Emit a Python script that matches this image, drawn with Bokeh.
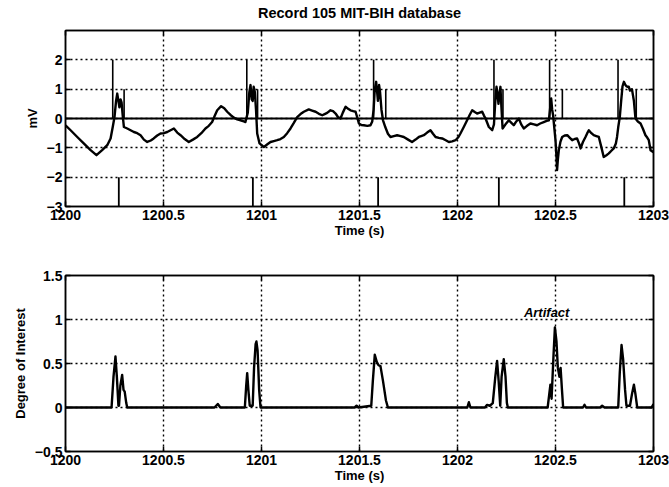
from bokeh.plotting import figure
from bokeh.layouts import column
from bokeh.models import Range1d, FixedTicker, LinearAxis, Span, Label
from bokeh.embed import file_html
from bokeh.resources import INLINE

# ---------------- data ----------------
ecg_t = [1200.000, 1200.026, 1200.060, 1200.093, 1200.128, 1200.158, 1200.187, 1200.213, 1200.230, 1200.241,
         1200.250, 1200.258, 1200.264, 1200.270, 1200.275, 1200.281, 1200.286, 1200.292, 1200.298, 1200.315,
         1200.332, 1200.349, 1200.366, 1200.383, 1200.400, 1200.417, 1200.435, 1200.450, 1200.468, 1200.485,
         1200.502, 1200.519, 1200.536, 1200.553, 1200.570, 1200.587, 1200.608, 1200.629, 1200.650, 1200.672,
         1200.693, 1200.714, 1200.731, 1200.748, 1200.762, 1200.774, 1200.794, 1200.810, 1200.825, 1200.842,
         1200.859, 1200.876, 1200.893, 1200.910, 1200.918, 1200.930, 1200.938, 1200.944, 1200.950, 1200.955,
         1200.960, 1200.966, 1200.972, 1200.978, 1200.990, 1201.012, 1201.030, 1201.046, 1201.063, 1201.080,
         1201.097, 1201.114, 1201.131, 1201.148, 1201.165, 1201.182, 1201.199, 1201.216, 1201.241, 1201.258,
         1201.276, 1201.293, 1201.310, 1201.322, 1201.335, 1201.352, 1201.365, 1201.378, 1201.390, 1201.403,
         1201.415, 1201.429, 1201.442, 1201.454, 1201.468, 1201.480, 1201.490, 1201.497, 1201.510, 1201.522,
         1201.540, 1201.556, 1201.565, 1201.572, 1201.578, 1201.585, 1201.590, 1201.594, 1201.600, 1201.605,
         1201.612, 1201.620, 1201.632, 1201.645, 1201.658, 1201.675, 1201.692, 1201.710, 1201.726, 1201.748,
         1201.768, 1201.786, 1201.803, 1201.815, 1201.828, 1201.845, 1201.862, 1201.875, 1201.888, 1201.905,
         1201.922, 1201.940, 1201.956, 1201.973, 1201.990, 1202.005, 1202.015, 1202.032, 1202.049, 1202.062,
         1202.075, 1202.088, 1202.100, 1202.113, 1202.126, 1202.135, 1202.143, 1202.160, 1202.177, 1202.186,
         1202.192, 1202.199, 1202.205, 1202.209, 1202.214, 1202.219, 1202.224, 1202.230, 1202.245, 1202.262,
         1202.275, 1202.287, 1202.300, 1202.313, 1202.325, 1202.338, 1202.355, 1202.372, 1202.390, 1202.406,
         1202.422, 1202.440, 1202.455, 1202.466, 1202.472, 1202.478, 1202.483, 1202.488, 1202.495, 1202.500,
         1202.505, 1202.508, 1202.512, 1202.517, 1202.525, 1202.534, 1202.547, 1202.560, 1202.572, 1202.585,
         1202.598, 1202.610, 1202.620, 1202.628, 1202.640, 1202.653, 1202.662, 1202.670, 1202.683, 1202.695,
         1202.708, 1202.721, 1202.733, 1202.746, 1202.760, 1202.772, 1202.785, 1202.797, 1202.808, 1202.814,
         1202.820, 1202.828, 1202.835, 1202.842, 1202.849, 1202.856, 1202.862, 1202.868, 1202.874, 1202.880,
         1202.890, 1202.900, 1202.908, 1202.920, 1202.934, 1202.946, 1202.959, 1202.968, 1202.976, 1202.985,
         1203.000]
ecg_mv = [-0.23, -0.40, -0.63, -0.85, -1.08, -1.25, -1.08, -0.91, -0.68, -0.29,
          0.05, 0.60, 0.85, 0.60, 0.38, 0.65, 0.55, 0.10, -0.29, -0.34,
          -0.40, -0.46, -0.50, -0.57, -0.72, -0.80, -0.75, -0.68, -0.58, -0.51,
          -0.50, -0.46, -0.40, -0.34, -0.48, -0.57, -0.70, -0.80, -0.72, -0.63,
          -0.50, -0.34, -0.25, -0.12, 0.10, 0.28, 0.42, 0.35, 0.23, 0.12,
          0.03, -0.03, -0.06, -0.10, -0.12, 0.20, 0.90, 1.14, 0.65, 0.60,
          1.08, 0.90, 0.30, -0.51, -0.85, -0.97, -0.88, -0.80, -0.77, -0.74,
          -0.70, -0.63, -0.50, -0.34, -0.15, 0.05, 0.15, 0.23, 0.31, 0.27,
          0.23, 0.16, 0.11, 0.15, 0.19, 0.28, 0.25, 0.17, 0.05, 0.00,
          0.20, 0.40, 0.33, 0.28, 0.25, 0.23, 0.00, -0.17, -0.22, -0.23,
          -0.25, -0.23, -0.10, 0.30, 1.00, 1.25, 0.90, 0.60, 1.14, 0.90,
          0.30, -0.06, -0.30, -0.52, -0.63, -0.60, -0.57, -0.60, -0.63, -0.72,
          -0.80, -0.72, -0.63, -0.60, -0.57, -0.48, -0.40, -0.52, -0.63, -0.66,
          -0.68, -0.74, -0.80, -0.78, -0.74, -0.63, -0.51, -0.29, -0.06, 0.12,
          0.28, 0.22, 0.17, 0.20, 0.23, 0.10, 0.00, -0.29, -0.40, -0.20,
          0.50, 1.08, 0.80, 0.50, 0.85, 1.08, 0.40, -0.34, -0.20, -0.06,
          -0.15, -0.23, -0.10, 0.00, -0.20, -0.34, -0.25, -0.17, -0.20, -0.23,
          -0.17, -0.12, -0.08, -0.06, 0.30, 0.68, 0.30, 0.10, -0.40, -0.74,
          -1.30, -1.76, -1.40, -1.08, -0.80, -0.63, -0.58, -0.57, -0.65, -0.74,
          -0.70, -0.68, -0.85, -1.02, -0.80, -0.63, -0.50, -0.40, -0.50, -0.57,
          -0.60, -0.63, -0.95, -1.31, -1.25, -1.19, -1.10, -1.02, -0.85, -0.63,
          -0.30, 0.05, 0.60, 1.10, 1.25, 1.15, 1.10, 1.08, 1.08, 0.95,
          1.00, 0.60, 0.00, -0.10, -0.17, -0.35, -0.57, -0.65, -0.74, -1.08,
          -1.15]

# beat annotation marks (top: detected, short: second mark, bottom: reference)
tall_marks = [1200.241, 1200.925, 1201.572, 1202.186, 1202.470, 1202.819]
short_marks = [1200.299, 1200.980, 1201.634, 1202.232, 1202.535, 1202.912]
ref_marks = [1200.272, 1200.956, 1201.595, 1202.211, 1202.851]

doi_t = [1200.000, 1200.235, 1200.245, 1200.255, 1200.262, 1200.270, 1200.273, 1200.280, 1200.289, 1200.296,
         1200.302, 1200.310, 1200.315, 1200.760, 1200.777, 1200.790, 1200.915, 1200.922, 1200.927, 1200.933,
         1200.940, 1200.955, 1200.962, 1200.970, 1200.974, 1200.980, 1200.988, 1200.995, 1201.475, 1201.485,
         1201.495, 1201.560, 1201.568, 1201.578, 1201.588, 1201.597, 1201.607, 1201.620, 1201.635, 1201.645,
         1202.050, 1202.058, 1202.066, 1202.140, 1202.151, 1202.165, 1202.180, 1202.193, 1202.202, 1202.210,
         1202.218, 1202.225, 1202.236, 1202.245, 1202.252, 1202.257, 1202.460, 1202.468, 1202.474, 1202.480,
         1202.490, 1202.497, 1202.505, 1202.512, 1202.520, 1202.526, 1202.533, 1202.539, 1202.640, 1202.648,
         1202.656, 1202.728, 1202.738, 1202.750, 1202.820, 1202.828, 1202.837, 1202.845, 1202.855, 1202.862,
         1202.880, 1202.890, 1202.900, 1202.908, 1202.917, 1202.990, 1203.000]
doi = [0.0, 0.0, 0.35, 0.58, 0.35, 0.02, 0.02, 0.25, 0.37, 0.20,
       0.18, 0.05, 0.0, 0.0, 0.04, 0.0, 0.0, 0.25, 0.39, 0.20,
       0.02, 0.02, 0.45, 0.72, 0.75, 0.65, 0.20, 0.0, 0.0, 0.02,
       0.0, 0.02, 0.30, 0.60, 0.52, 0.48, 0.47, 0.30, 0.08, 0.0,
       0.0, 0.06, 0.0, 0.0, 0.03, 0.02, 0.05, 0.35, 0.53, 0.30,
       0.02, 0.35, 0.55, 0.35, 0.05, 0.0, 0.0, 0.15, 0.26, 0.10,
       0.60, 0.91, 0.75, 0.45, 0.35, 0.45, 0.20, 0.0, 0.0, 0.03,
       0.0, 0.0, 0.02, 0.0, 0.0, 0.40, 0.71, 0.55, 0.20, 0.02,
       0.02, 0.15, 0.26, 0.15, 0.0, 0.0, 0.04]

x_ticks = [1200, 1200.5, 1201, 1201.5, 1202, 1202.5, 1203]
x_tick_labels = ["1200", "1200.5", "1201", "1201.5", "1202", "1202.5", "1203"]
top_y_ticks = [-3, -2, -1, 0, 1, 2]
top_y_labels = ["\u22123", "\u22122", "\u22121", "0", "1", "2"]
bot_y_ticks = [-0.5, 0, 0.5, 1, 1.5]
bot_y_labels = ["\u22120.5", "0", "0.5", "1", "1.5"]

title_text = "Record 105 MIT-BIH database"
artifact_t, artifact_y = 1202.455, 0.99

FONT = "Liberation Sans"


def style(p, xt, xl, yt, yl, xlabel, ylabel, top_label=None):
    xb = p.below[0]
    yl_ax = p.left[0]
    xb.ticker = FixedTicker(ticks=xt)
    yl_ax.ticker = FixedTicker(ticks=yt)
    xb.major_label_overrides = {k: v for k, v in zip(xt, xl)}
    yl_ax.major_label_overrides = {k: v for k, v in zip(yt, yl)}
    xb.axis_label = xlabel
    yl_ax.axis_label = ylabel
    for ax in (xb, yl_ax):
        ax.major_tick_in = 5
        ax.major_tick_out = 0
        ax.minor_tick_line_color = None
        ax.axis_line_color = "black"
        ax.axis_line_width = 1.5
        ax.major_tick_line_width = 1.5
        ax.major_label_text_font = FONT
        ax.major_label_text_font_style = "bold"
        ax.major_label_text_font_size = "14px"
        ax.major_label_text_color = "black"
        ax.axis_label_text_font = FONT
        ax.axis_label_text_font_style = "bold"
        ax.axis_label_text_font_size = "13px"
        ax.axis_label_text_color = "black"
    xb.major_label_standoff = 3
    xb.axis_label_standoff = 0
    yl_ax.major_label_standoff = 3
    yl_ax.axis_label_standoff = 4
    # box axes on top/right (ticks only, no tick labels)
    for loc, tick in (("right", yt), ("above", xt)):
        ax = LinearAxis(ticker=FixedTicker(ticks=tick), major_tick_in=5, major_tick_out=0,
                        minor_tick_line_color=None,
                        major_label_overrides={k: "" for k in tick},
                        major_label_standoff=0, axis_line_width=1.5, major_tick_line_width=1.5)
        if loc == "above" and top_label:
            ax.axis_label = top_label
            ax.axis_label_standoff = 10
            ax.axis_label_text_font = FONT
            ax.axis_label_text_font_style = "bold"
            ax.axis_label_text_font_size = "14.5px"
            ax.axis_label_text_color = "black"
        p.add_layout(ax, loc)
    p.xgrid.ticker = FixedTicker(ticks=xt)
    p.ygrid.ticker = FixedTicker(ticks=yt)
    p.grid.grid_line_color = "black"
    p.grid.grid_line_dash = "2 3"
    p.grid.grid_line_width = 1.4
    p.outline_line_color = "black"
    p.outline_line_width = 1.5
    p.background_fill_color = "white"
    p.border_fill_color = "white"


p1 = figure(width=669, height=260, output_backend="svg", toolbar_location=None,
            x_range=Range1d(1200, 1203), y_range=Range1d(-3, 3),
            min_border_left=65, min_border_right=16, min_border_top=30, min_border_bottom=54)
style(p1, x_ticks, x_tick_labels, top_y_ticks, top_y_labels, "Time (s)", "mV", title_text)
p1.add_layout(Span(location=0, dimension="width", line_color="black", line_width=2))
p1.segment(x0=tall_marks, y0=[0] * len(tall_marks), x1=tall_marks, y1=[2] * len(tall_marks),
           line_color="black", line_width=1.6)
p1.segment(x0=short_marks, y0=[0] * len(short_marks), x1=short_marks, y1=[1] * len(short_marks),
           line_color="black", line_width=1.6)
p1.segment(x0=ref_marks, y0=[-3] * len(ref_marks), x1=ref_marks, y1=[-2] * len(ref_marks),
           line_color="black", line_width=1.8)
p1.line(ecg_t, ecg_mv, line_color="black", line_width=2.4, line_join="round")

p2 = figure(width=669, height=227, output_backend="svg", toolbar_location=None,
            x_range=Range1d(1200, 1203), y_range=Range1d(-0.5, 1.5),
            min_border_left=65, min_border_right=16, min_border_top=15, min_border_bottom=36)
style(p2, x_ticks, x_tick_labels, bot_y_ticks, bot_y_labels, "Time (s)", "Degree of Interest")
p2.line(doi_t, doi, line_color="black", line_width=2.4, line_join="round")
p2.add_layout(Label(x=artifact_t, y=artifact_y, text="Artifact", text_align="center",
                    text_baseline="bottom", text_font=FONT, text_font_style="bold italic",
                    text_font_size="13px", text_color="black"))

layout = column(p1, p2, spacing=0)
open("out.html", "w").write(file_html(layout, INLINE))
